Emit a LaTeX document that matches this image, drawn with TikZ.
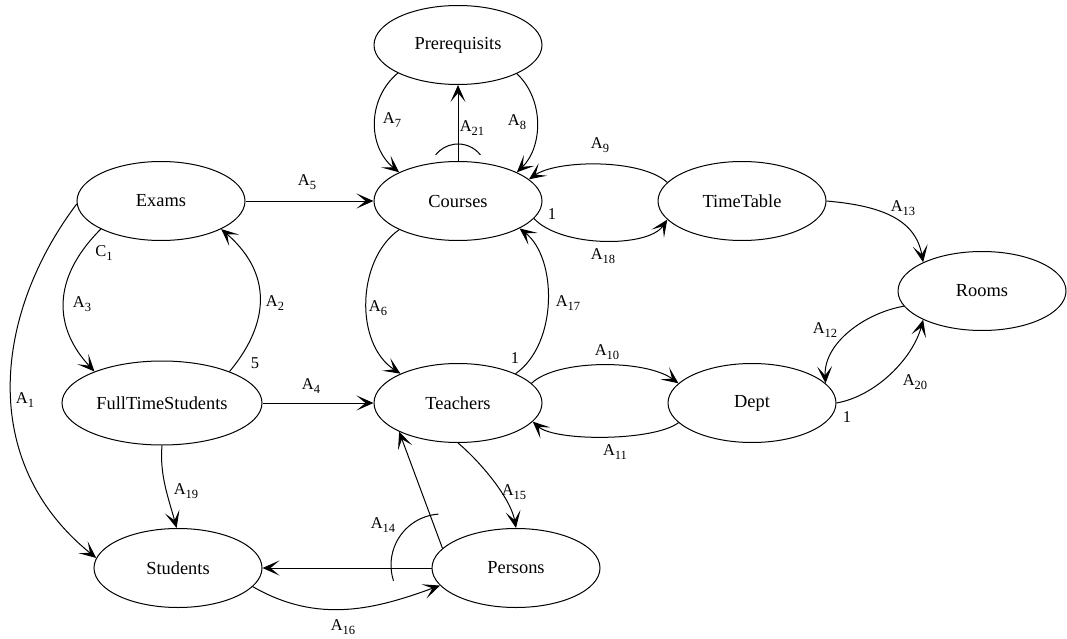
\documentclass[tikz,border=0pt]{standalone}
\usepackage{fontspec}
\setmainfont{Liberation Serif}
\usetikzlibrary{shapes.geometric,arrows.meta}
% arc label: letter with a lowered index
\newcommand{\edgelab}[2]{#1\raisebox{-3.5pt}{\fontsize{12.5}{12.5}\selectfont #2}}

\begin{document}
\begin{tikzpicture}[x=1pt,y=1pt,
  entity/.style={draw, ellipse, line width=1pt, minimum width=168pt, minimum height=79pt,
                 inner sep=0pt, font=\fontsize{18.4}{22}\selectfont},
  widebox/.style={minimum width=200pt, minimum height=84pt},
  rel/.style={line width=1pt, -{Stealth[length=17pt,width=15pt,inset=9pt]}},
  plain/.style={line width=1pt},
  lab/.style={inner sep=0pt, font=\fontsize{16.5}{18}\selectfont},
]
\useasboundingbox (0,0) rectangle (1067,-639);

% entities
\node[entity] (prereq)    at (458,-45)  {Prerequisits};
\node[entity] (courses)   at (458,-201) {Courses};
\node[entity] (exams)     at (161,-201) {Exams};
\node[entity] (timetable) at (742,-201) {TimeTable};
\node[entity] (rooms)     at (982,-291) {Rooms};
\node[entity,widebox] (fts) at (162,-403) {FullTimeStudents};
\node[entity] (teachers)  at (458,-403) {Teachers};
\node[entity] (dept)      at (752,-403) {Dept};
\node[entity] (students)  at (178,-568) {Students};
\node[entity] (persons)   at (516,-568) {Persons};

% straight relations
\draw[rel] (exams.east) -- (courses.west);
\draw[rel] (fts.east) -- (teachers.west);
\draw[rel] (courses.north) -- (prereq.south);
\draw[rel] (persons.165) -- (teachers.206);
\draw[rel] (persons.west) -- (students.east);

% curved relations
\draw[rel] (prereq.205) to[out=220,in=141,out distance=40,in distance=41] (courses.154);
\draw[rel] (prereq.334) to[out=317,in=44,out distance=38,in distance=36] (courses.26);
\draw[rel] (timetable.166) to[out=138,in=35,out distance=36,in distance=34] (courses.17);
\draw[rel] (courses.347) to[out=313,in=236,out distance=40,in distance=34] (timetable.194);
\draw[rel] (timetable.east) to[out=355,in=100,out distance=50,in distance=46] (rooms.154);
\draw[rel] (rooms.191) to[out=190,in=93,out distance=40,in distance=40] (dept.15);
\draw[rel] (dept.east) to[out=10,in=255,out distance=40,in distance=40] (rooms.206);
\draw[rel] (teachers.15) to[out=44,in=144,out distance=35,in distance=41] (dept.165);
\draw[rel] (dept.195) to[out=217,in=318,out distance=31,in distance=30] (teachers.346);
\draw[rel] (courses.206) to[out=215,in=147,out distance=52,in distance=55] (teachers.153);
\draw[rel] (teachers.27) to[out=35,in=322,out distance=52,in distance=48] (courses.336);
\draw[rel] (exams.205) to[out=225,in=133,out distance=72,in distance=58] (fts.155);
\draw[rel] (fts.25) to[out=50,in=319,out distance=54,in distance=75] (exams.335);
\draw[rel] (exams.182) to[out=233,in=141,out distance=136,in distance=154] (students.173);
\draw[rel] (fts.south) to[out=265,in=105,out distance=30,in distance=30] (students.92);
\draw[rel] (teachers.south) to[out=320,in=100,out distance=30,in distance=30] (persons.north);
\draw[rel] (students.346) to[out=330,in=200,out distance=76,in distance=68] (persons.193);

% grouping arcs
\draw[plain] ([yshift=28.5pt]courses.center) ++(38:28.5) arc[start angle=38,end angle=142,radius=28.5];
\draw[plain] ([shift={(-74,3)}]persons.center) ++(94:51) arc[start angle=94,end angle=198,radius=51];

% labels
\node[lab] (l5)  at (307,-182) {\edgelab{A}{5}};
\node[lab] (l4)  at (311,-386) {\edgelab{A}{4}};
\node[lab] (l21) at (472,-128) {\edgelab{A}{21}};
\node[lab] (l7)  at (392,-120) {\edgelab{A}{7}};
\node[lab] (l8)  at (517,-122) {\edgelab{A}{8}};
\node[lab] (l9)  at (600,-145) {\edgelab{A}{9}};
\node[lab] (c1a) at (552,-214) {1};
\node[lab] (l18) at (603,-256) {\edgelab{A}{18}};
\node[lab] (l13) at (903,-208) {\edgelab{A}{13}};
\node[lab] (l12) at (825,-330) {\edgelab{A}{12}};
\node[lab] (l20) at (915,-382) {\edgelab{A}{20}};
\node[lab] (c1b) at (847,-417) {1};
\node[lab] (l10) at (607,-352) {\edgelab{A}{10}};
\node[lab] (l11) at (615,-452) {\edgelab{A}{11}};
\node[lab] (l6)  at (378,-308) {\edgelab{A}{6}};
\node[lab] (l17) at (568,-303) {\edgelab{A}{17}};
\node[lab] (c1c) at (515,-358) {1};
\node[lab] (l3)  at (82,-304)  {\edgelab{A}{3}};
\node[lab] (lc1) at (104,-253) {\edgelab{C}{1}};
\node[lab] (l2)  at (275,-303) {\edgelab{A}{2}};
\node[lab] (c5)  at (255,-363) {5};
\node[lab] (l1)  at (25,-400)  {\edgelab{A}{1}};
\node[lab] (l19) at (186,-491) {\edgelab{A}{19}};
\node[lab] (l14) at (383,-525) {\edgelab{A}{14}};
\node[lab] (l15) at (514,-492) {\edgelab{A}{15}};
\node[lab] (l16) at (343,-627) {\edgelab{A}{16}};
\end{tikzpicture}
\end{document}
